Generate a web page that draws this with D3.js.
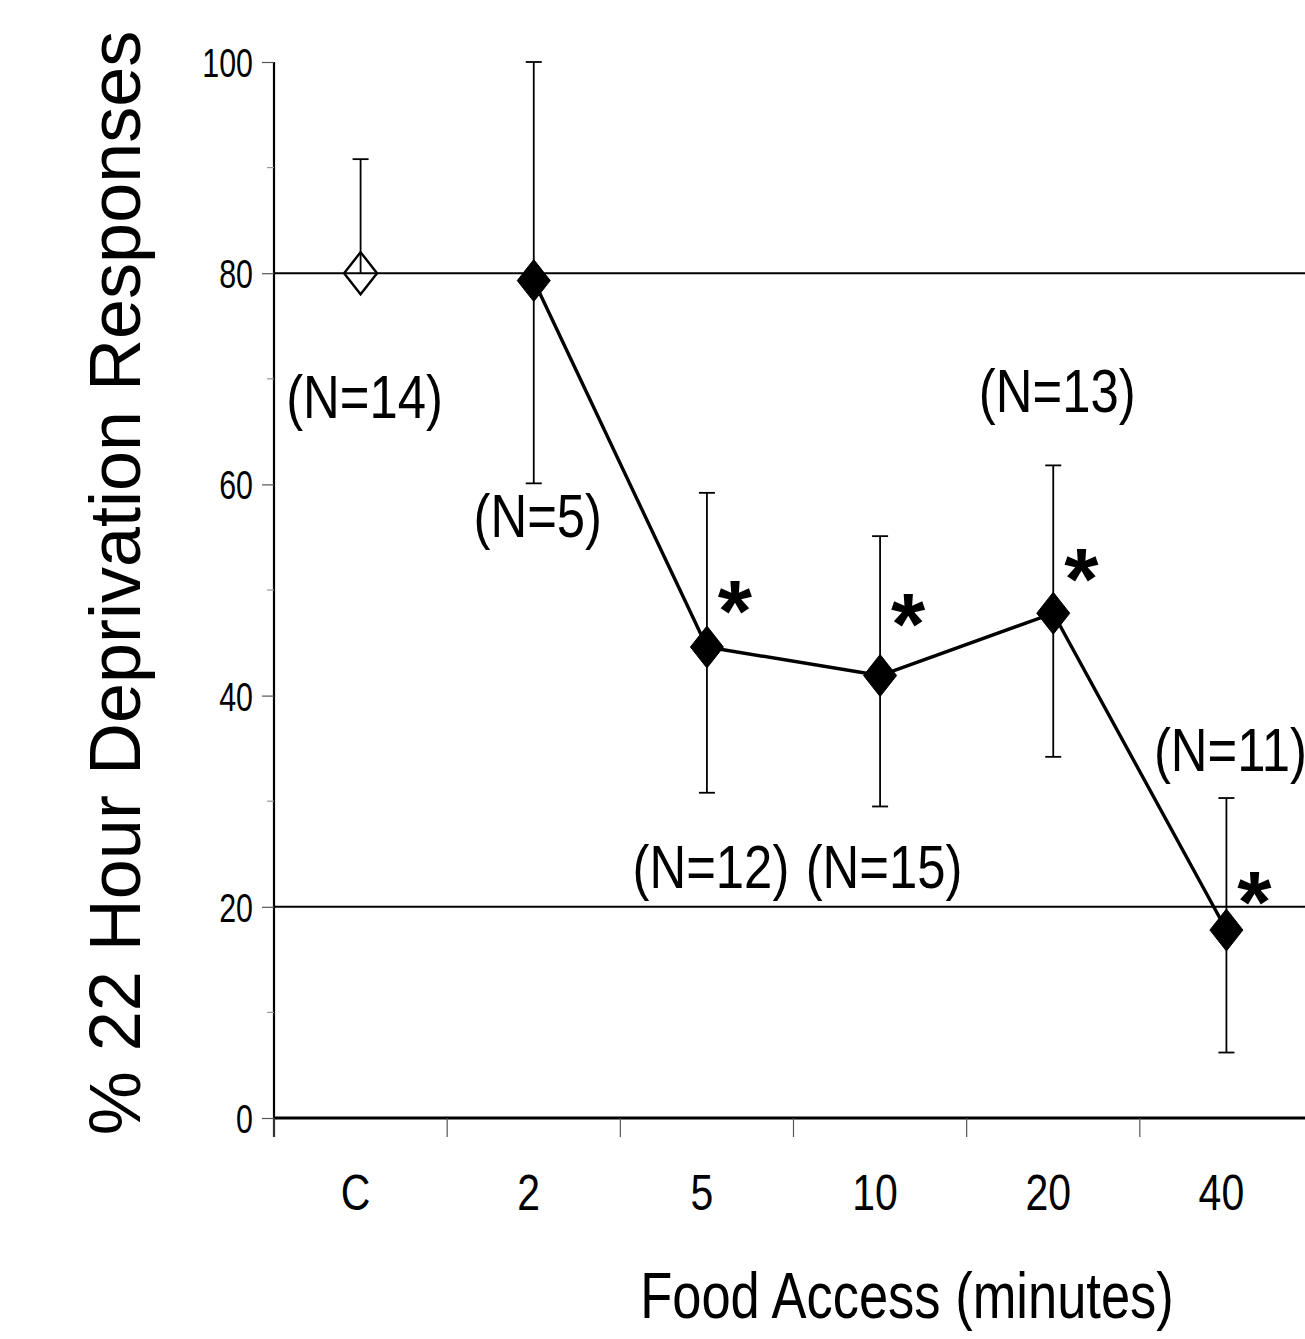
<!DOCTYPE html>
<html>
<head>
<meta charset="utf-8">
<script src="https://cdn.jsdelivr.net/npm/d3@7"></script>
<style>
  html, body { margin: 0; padding: 0; background: #fff; }
  svg { display: block; }
  text { font-family: "Liberation Sans", Arial, Helvetica, sans-serif; }
</style>
</head>
<body>
<svg id="chart" width="1305" height="1339"></svg>
<script>
// ---- data ----
const categories = ["C", "2", "5", "10", "20", "40"];
const means      = [80.0, 79.3, 44.6, 41.9, 47.8, 17.8];
const errUpper   = [90.8, 100.0, 59.2, 55.1, 61.8, 30.3];
const errLower   = [null, 60.1, 30.8, 29.5, 34.2, 6.2];
const groupSize  = ["(N=14)", "(N=5)", "(N=12)", "(N=15)", "(N=13)", "(N=11)"];
const labelValue = [66.3, 55.0, 21.8, 21.8, 66.9, 32.9];   // baseline of N labels, in % units
const significant = [false, false, true, true, true, true];
const starValue  = [null, null, 49.1, 47.9, 52.1, 21.5];    // asterisk centre, in % units
const yTicks      = [0, 20, 40, 60, 80, 100];
const yMinorTicks = [10, 30, 50, 70, 90];
const refLines    = [20, 80];
const xTitle = "Food Access (minutes)";
const yTitle = "% 22 Hour Deprivation Responses";

// ---- layout ----
const W = 1305, H = 1339;
const mLeft = 274, mTop = 62, mBottom = 1118, mRight = 1313;
const NARROW = 0.82;

const svg = d3.select("#chart");
const x = d3.scaleBand().domain(categories).range([mLeft, mRight]).padding(0);
const y = d3.scaleLinear().domain([0, 100]).range([mBottom, mTop]);
const cx = c => x(c) + x.bandwidth() / 2;

// condensed (Helvetica Narrow-like) text helper
function narrowText(sel, px, py, size, sx = NARROW) {
  return sel.attr("transform", `translate(${px},${py}) scale(${sx},1)`)
    .attr("font-size", size).attr("fill", "#000");
}

const data = categories.map((c, i) => ({
  cat: c, mean: means[i], hi: errUpper[i], lo: errLower[i],
  label: groupSize[i], lv: labelValue[i], sig: significant[i], sv: starValue[i],
  control: i === 0
}));

// reference lines
svg.append("g").selectAll("line").data(refLines).join("line")
  .attr("x1", mLeft).attr("x2", W).attr("y1", d => y(d)).attr("y2", d => y(d))
  .attr("stroke", "#000").attr("stroke-width", 2);

// y axis
const yAxis = d3.axisLeft(y).tickValues(yTicks).tickSize(12).tickFormat(d3.format("d"));
const gy = svg.append("g").attr("transform", `translate(${mLeft},0)`).call(yAxis);
gy.attr("font-family", null).attr("font-size", null);
gy.select(".domain").attr("d", `M0,${mTop}V${mBottom + 19}`).attr("stroke", "#000").attr("stroke-width", 2.2);
gy.selectAll(".tick line").attr("stroke", "#555").attr("stroke-width", 1.2);
gy.selectAll(".tick text").attr("x", null).attr("dy", "0.36em")
  .each(function () { narrowText(d3.select(this), -21, 0, 40, 0.76); });
svg.append("g").selectAll("line").data(yMinorTicks).join("line")
  .attr("x1", mLeft - 7).attr("x2", mLeft).attr("y1", d => y(d)).attr("y2", d => y(d))
  .attr("stroke", "#999").attr("stroke-width", 1.2);

// x axis
const gx = svg.append("g").attr("transform", `translate(0,${mBottom})`);
gx.append("line").attr("x1", mLeft).attr("x2", W).attr("y1", 0).attr("y2", 0)
  .attr("stroke", "#000").attr("stroke-width", 3);
const bounds = categories.map(c => x(c)).concat([x.range()[1]]);
gx.selectAll("line.tk").data(bounds).join("line").attr("class", "tk")
  .attr("x1", d => d).attr("x2", d => d).attr("y1", 0).attr("y2", 19)
  .attr("stroke", "#555").attr("stroke-width", 1.2);
gx.selectAll("text").data(categories).join("text")
  .attr("text-anchor", "middle").text(d => d)
  .each(function (d) { narrowText(d3.select(this), cx(d) - 5, 92, 50); });

// axis titles
narrowText(svg.append("text").attr("text-anchor", "middle").text(xTitle), 907, 1318, 64);
svg.append("text")
  .attr("transform", "translate(140,583) rotate(-90)")
  .attr("text-anchor", "middle").attr("font-size", 72).attr("fill", "#000").text(yTitle);

// error bars
const eb = svg.append("g").attr("stroke", "#000").attr("stroke-width", 1.8).attr("fill", "none");
data.forEach(d => {
  const X = cx(d.cat);
  const y0 = y(d.lo != null ? d.lo : d.mean);
  eb.append("line").attr("x1", X).attr("x2", X).attr("y1", y(d.hi)).attr("y2", y0);
  eb.append("line").attr("x1", X - 8).attr("x2", X + 8).attr("y1", y(d.hi)).attr("y2", y(d.hi));
  if (d.lo != null)
    eb.append("line").attr("x1", X - 8).attr("x2", X + 8).attr("y1", y(d.lo)).attr("y2", y(d.lo));
});

// connecting line (deprivation groups only)
const line = d3.line().x(d => cx(d.cat)).y(d => y(d.mean));
svg.append("path").datum(data.filter(d => !d.control)).attr("d", line)
  .attr("fill", "none").attr("stroke", "#000").attr("stroke-width", 3.4).attr("stroke-linejoin", "round");

// diamonds
const hw = 16.5, hh = 21;
const diamond = `M0,${-hh}L${hw},0L0,${hh}L${-hw},0Z`;
svg.append("g").selectAll("path").data(data).join("path")
  .attr("transform", d => `translate(${cx(d.cat)},${y(d.mean)})`)
  .attr("d", diamond)
  .attr("fill", d => d.control ? "none" : "#000")
  .attr("stroke", "#000").attr("stroke-width", d => d.control ? 2.4 : 1);

// N labels
svg.append("g").selectAll("text").data(data).join("text")
  .attr("text-anchor", "middle").text(d => d.label)
  .each(function (d) { narrowText(d3.select(this), cx(d.cat) + 4, y(d.lv), 62); });

// significance asterisks
svg.append("g").selectAll("text").data(data.filter(d => d.sig)).join("text")
  .attr("x", d => cx(d.cat) + 28).attr("y", d => y(d.sv))
  .attr("dy", "0.47em")
  .attr("text-anchor", "middle").attr("font-size", 88).attr("font-weight", "bold").attr("fill", "#000").text("*");
</script>
</body>
</html>
